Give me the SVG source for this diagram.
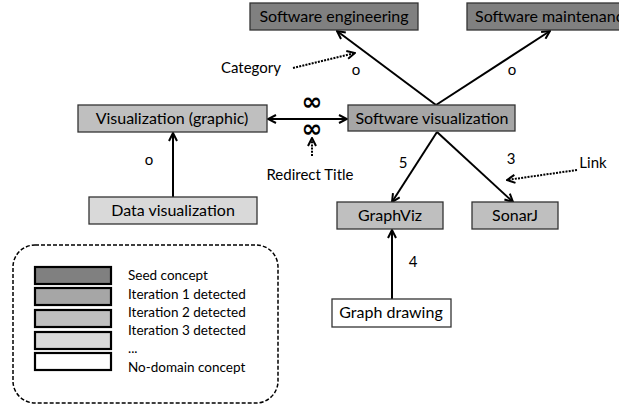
<svg xmlns="http://www.w3.org/2000/svg" width="619" height="407" viewBox="0 0 619 407">
<style>
.node{stroke:#333;stroke-width:1.3}
.t{font-family:Lato,"Liberation Sans",sans-serif;font-size:16px;fill:#000;text-anchor:middle}
.lbl{font-family:Lato,"Liberation Sans",sans-serif;font-size:15px;fill:#000;text-anchor:middle}
.inf{font-family:"DejaVu Sans",sans-serif;font-size:25px;font-weight:bold;fill:#000;text-anchor:middle}
.lg{font-family:Lato,"Liberation Sans",sans-serif;font-size:13.5px;fill:#000}
.c{stroke:#000;stroke-width:2;fill:none}
.d{stroke:#000;stroke-width:2;fill:none;stroke-dasharray:2 1.2}
.sw{stroke:#000;stroke-width:2.2}
</style>
<defs>
<marker id="ah" viewBox="0 0 10 10" refX="9" refY="5" markerWidth="10" markerHeight="10" markerUnits="userSpaceOnUse" orient="auto-start-reverse">
<path d="M1,1 L9,5 L1,9" fill="none" stroke="#000" stroke-width="2"/>
</marker>
</defs>
<g id="connectors">
<line class="c" x1="436" y1="105" x2="337" y2="31" marker-end="url(#ah)"/>
<line class="c" x1="436" y1="105" x2="550" y2="31" marker-end="url(#ah)"/>
<line class="c" x1="268" y1="119" x2="347" y2="119" marker-start="url(#ah)" marker-end="url(#ah)"/>
<line class="c" x1="173" y1="197" x2="173" y2="133" marker-end="url(#ah)"/>
<line class="c" x1="437" y1="132" x2="392" y2="202" marker-end="url(#ah)"/>
<line class="c" x1="437" y1="132" x2="513" y2="202" marker-end="url(#ah)"/>
<line class="c" x1="392" y1="299" x2="392" y2="230" marker-end="url(#ah)"/>
<line class="d" x1="293" y1="68" x2="355" y2="53" marker-end="url(#ah)"/>
<line class="d" x1="312" y1="156" x2="312" y2="138" marker-end="url(#ah)"/>
<line class="d" x1="577" y1="170" x2="507" y2="180" marker-end="url(#ah)"/>
<text class="lbl" x="356" y="75">o</text>
<text class="lbl" x="512" y="75">o</text>
<text class="lbl" x="149" y="165">o</text>
<text class="lbl" x="403" y="168">5</text>
<text class="lbl" x="511" y="164">3</text>
<text class="lbl" x="413" y="267">4</text>
<text class="inf" x="312" y="110">∞</text>
<text class="inf" x="312" y="137">∞</text>
<text class="lbl" x="251" y="73">Category</text>
<text class="lbl" x="310" y="180">Redirect Title</text>
<text class="lbl" x="593" y="168">Link</text>
</g>
<g id="software-engineering">
<rect class="node" x="250" y="3" width="168" height="27" fill="#808080"/>
<text class="t" x="334" y="22">Software engineering</text>
</g>
<g id="software-maintenance">
<rect class="node" x="467" y="3" width="170" height="27" fill="#808080"/>
<text class="t" x="475" y="22" style="text-anchor:start">Software maintenance</text>
</g>
<g id="software-visualization">
<rect class="node" x="348" y="105" width="167" height="26" fill="#a6a6a6"/>
<text class="t" x="432" y="124">Software visualization</text>
</g>
<g id="visualization-graphic">
<rect class="node" x="78" y="105" width="189" height="27" fill="#bfbfbf"/>
<text class="t" x="172" y="124">Visualization (graphic)</text>
</g>
<g id="data-visualization">
<rect class="node" x="89" y="197" width="168" height="27" fill="#d9d9d9"/>
<text class="t" x="173" y="216">Data visualization</text>
</g>
<g id="graphviz">
<rect class="node" x="337" y="202" width="106" height="27" fill="#bfbfbf"/>
<text class="t" x="390" y="221">GraphViz</text>
</g>
<g id="sonarj">
<rect class="node" x="472" y="202" width="86" height="27" fill="#bfbfbf"/>
<text class="t" x="515" y="221">SonarJ</text>
</g>
<g id="graph-drawing">
<rect class="node" x="332" y="299" width="119" height="28" fill="#ffffff"/>
<text class="t" x="391" y="318">Graph drawing</text>
</g>
<g id="legend">
<rect x="13" y="245" width="265" height="158" rx="22" ry="22" fill="none" stroke="#000" stroke-width="1.5" stroke-dasharray="4 2"/>
<rect class="sw" x="35" y="267" width="76" height="17" fill="#808080"/>
<rect class="sw" x="35" y="288" width="76" height="17" fill="#a6a6a6"/>
<rect class="sw" x="35" y="310" width="76" height="17" fill="#bfbfbf"/>
<rect class="sw" x="35" y="332" width="76" height="17" fill="#d9d9d9"/>
<rect class="sw" x="35" y="353" width="76" height="17" fill="#ffffff"/>
<text class="lg" x="128" y="280">Seed concept</text>
<text class="lg" x="128" y="299">Iteration 1 detected</text>
<text class="lg" x="128" y="317">Iteration 2 detected</text>
<text class="lg" x="128" y="335">Iteration 3 detected</text>
<text class="lg" x="128" y="353">...</text>
<text class="lg" x="128" y="372">No-domain concept</text>
</g>
</svg>
